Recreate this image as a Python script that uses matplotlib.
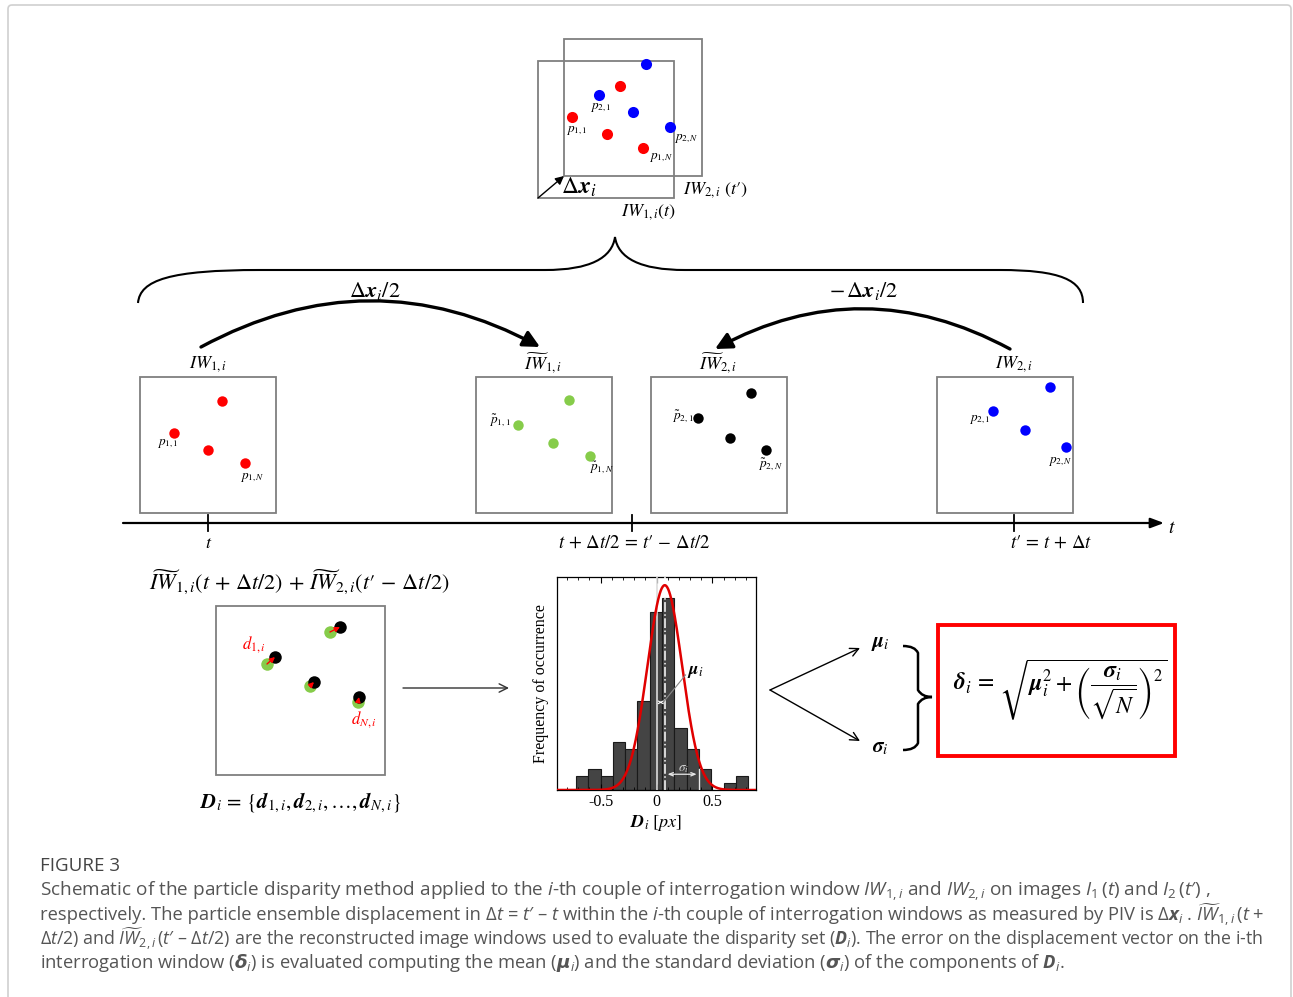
import numpy as np
import matplotlib
matplotlib.use("Agg")
import matplotlib.pyplot as plt
from matplotlib.patches import Rectangle, FancyArrowPatch, PathPatch, FancyBboxPatch
from matplotlib.path import Path

plt.rcParams['mathtext.fontset'] = 'custom'
plt.rcParams['mathtext.rm'] = 'Open Sans'
plt.rcParams['mathtext.it'] = 'Open Sans:italic'
plt.rcParams['mathtext.bf'] = 'Open Sans:bold:italic'

W, H = 1293, 997

# --- histogram of the disparity set D_i (counts per bin) ---
bin_edges = [-0.72, -0.61, -0.50, -0.39, -0.28, -0.17, -0.06, 0.05,
             0.16, 0.27, 0.38, 0.49, 0.60, 0.71, 0.82]
bin_counts = [2, 3, 2, 7, 6, 13, 26, 28, 9, 6, 3, 0, 1, 2]
fit_mu, fit_sigma, fit_peak = 0.074, 0.155, 29.9
sigma_arrow = 0.31

# --- particle positions (pixels in the figure) ---
top_red = [(620, 86), (572, 117), (607, 134), (643, 148)]
top_blue = [(646, 64), (599, 95), (633, 112), (670, 127)]
iw1_pts = [(222, 401), (174, 433), (208, 450), (245, 463)]
iw1t_pts = [(569, 400), (518, 425), (553, 443), (590, 456)]
iw2t_pts = [(751, 393), (698, 418), (730, 438), (766, 450)]
iw2_pts = [(1050, 387), (993, 411), (1025, 430), (1066, 447)]
green_pts = [(267, 664), (330, 632), (310, 686), (358, 702)]
black_pts = [(275, 657), (340, 627), (314, 682), (359, 697)]

RED, BLUE, GREEN = '#ff0000', '#0000ff', '#86cc4a'
BOXC = '#7f7f7f'
MF = 'stix'

fig = plt.figure(figsize=(W / 100, H / 100), dpi=100)
ax = fig.add_axes([0, 0, 1, 1])
ax.set_xlim(0, W)
ax.set_ylim(H, 0)
ax.axis('off')

# card border
ax.add_patch(FancyBboxPatch((8, 5), 1283, 1010, boxstyle="round,pad=0,rounding_size=4",
                            fc='none', ec='#d0d0d0', lw=1.2))


def box(x0, y0, x1, y1, ec=BOXC, lw=1.3):
    ax.add_patch(Rectangle((x0, y0), x1 - x0, y1 - y0, fc='none', ec=ec, lw=lw))


def mtext(x, y, s, size=12, **kw):
    kw.setdefault('ha', 'center')
    kw.setdefault('va', 'center')
    return ax.text(x, y, s, fontsize=size, math_fontfamily=MF, **kw)


def dots(pts, color, size=8):
    xs, ys = zip(*pts)
    ax.plot(xs, ys, 'o', ms=size, color=color, mec='none', zorder=5)


# ---- top: overlapping interrogation windows ----
box(538, 61, 674, 198)
box(564, 39, 702, 176)
dots(top_red, RED)
dots(top_blue, BLUE)
ax.add_patch(FancyArrowPatch((538, 198), (564, 176), arrowstyle='-|>,head_length=5,head_width=2.5',
                             lw=1.0, color='k', shrinkA=0, shrinkB=0))
mtext(561, 187, r'$\Delta\boldsymbol{x}_i$', size=17, ha='left')
mtext(683, 190, r"$IW_{2,i}\ (t\prime)$", size=13, ha='left')
mtext(648, 212, r"$IW_{1,i}(t)$", size=13)
mtext(601, 107, r'$p_{2,1}$', size=9.5)
mtext(577, 130, r'$p_{1,1}$', size=9.5)
mtext(686, 138, r'$p_{2,N}$', size=9.5)
mtext(661, 157, r'$p_{1,N}$', size=9.5)

# ---- big brace ----
bv = [(138, 303), (140, 280), (170, 270), (260, 270), (545, 270),
      (590, 270), (612, 258), (615, 237),
      (618, 258), (640, 270), (685, 270), (1000, 270),
      (1060, 270), (1083, 280), (1083, 303)]
bc = [Path.MOVETO, Path.CURVE4, Path.CURVE4, Path.CURVE4, Path.LINETO,
      Path.CURVE4, Path.CURVE4, Path.CURVE4,
      Path.CURVE4, Path.CURVE4, Path.CURVE4, Path.LINETO,
      Path.CURVE4, Path.CURVE4, Path.CURVE4]
ax.add_patch(PathPatch(Path(bv, bc), fc='none', ec='k', lw=1.5))

# ---- curved displacement arrows ----
ax.add_patch(FancyArrowPatch((201, 347), (540, 347), connectionstyle='arc3,rad=-0.27',
                             arrowstyle='-|>,head_length=10,head_width=5', lw=2.4,
                             color='k', shrinkA=0, shrinkB=0))
ax.add_patch(FancyArrowPatch((1010, 349), (715, 349), connectionstyle='arc3,rad=0.27',
                             arrowstyle='-|>,head_length=10,head_width=5', lw=2.4,
                             color='k', shrinkA=0, shrinkB=0))
mtext(375, 291, r'$\Delta\boldsymbol{x}_i/2$', size=16)
mtext(864, 291, r'$-\,\Delta\boldsymbol{x}_i/2$', size=16)

# ---- middle row windows ----
for (x0, x1), lab, cx in [((140, 276), r'$IW_{1,i}$', 208),
                          ((476, 612), r'$\widetilde{IW}_{1,i}$', 543),
                          ((651, 787), r'$\widetilde{IW}_{2,i}$', 718),
                          ((937, 1073), r'$IW_{2,i}$', 1014)]:
    box(x0, 377, x1, 513)
    mtext(cx, 364, lab, size=13)
dots(iw1_pts, RED, 7.5)
dots(iw1t_pts, GREEN, 7.5)
dots(iw2t_pts, 'k', 7.5)
dots(iw2_pts, BLUE, 7.5)
mtext(168, 443, r'$p_{1,1}$', size=9.5)
mtext(252, 477, r'$p_{1,N}$', size=9.5)
mtext(500, 421, r'$\tilde{p}_{1,1}$', size=9.5)
mtext(601, 468, r'$\tilde{p}_{1,N}$', size=9.5)
mtext(683, 417, r'$\tilde{p}_{2,1}$', size=9.5)
mtext(770, 465, r'$\tilde{p}_{2,N}$', size=9.5)
mtext(980, 419, r'$p_{2,1}$', size=9.5)
mtext(1060, 461, r'$p_{2,N}$', size=9.5)

# ---- time axis ----
ax.add_patch(FancyArrowPatch((123, 523), (1164, 523), arrowstyle='-|>,head_length=8,head_width=3',
                             lw=1.6, color='k', shrinkA=0, shrinkB=0))
for tx in (208, 632, 1014):
    ax.plot([tx, tx], [515, 531], color='k', lw=1.3)
mtext(1168, 527, r'$t$', size=14, ha='left')
mtext(209, 543, r'$t$', size=13)
mtext(634, 542, r"$t\,+\,\Delta t/2\,=\,t\prime\,-\,\Delta t/2$", size=13.5)
mtext(1051, 542, r"$t\prime\,=\,t\,+\,\Delta t$", size=13.5)

# ---- bottom left: superposed windows ----
mtext(299, 582, r"$\widetilde{IW}_{1,i}(t\,+\,\Delta t/2)\,+\,\widetilde{IW}_{2,i}(t\prime\,-\,\Delta t/2)$",
      size=16)
box(216, 606, 385, 775)
dots(green_pts, GREEN, 9)
dots(black_pts, 'k', 9)
for g, b in zip(green_pts, black_pts):
    ax.add_patch(FancyArrowPatch(g, b, arrowstyle='-|>,head_length=3,head_width=1.5', lw=1.0,
                                 color=RED, shrinkA=0, shrinkB=0, zorder=6))
mtext(254, 645, r'$d_{1,i}$', size=12, color=RED)
mtext(364, 720, r'$d_{N,i}$', size=12, color=RED)
mtext(300, 803, r'$\mathbfit{D}_i\,=\,\{\mathbfit{d}_{1,i},\mathbfit{d}_{2,i},\ldots,\mathbfit{d}_{N,i}\}$',
      size=15)
ax.add_patch(FancyArrowPatch((403, 688), (509, 688), arrowstyle='->,head_length=6,head_width=3',
                             lw=1.0, color='#333333', shrinkA=0, shrinkB=0))

# ---- right: mu, sigma and the error formula ----
for ty in (648, 741):
    ax.add_patch(FancyArrowPatch((770, 690), (860, ty), arrowstyle='->,head_length=6,head_width=3',
                                 lw=1.0, color='k', shrinkA=0, shrinkB=0))
mtext(880, 643, r'$\boldsymbol{\mu}_i$', size=15)
mtext(880, 747, r'$\boldsymbol{\sigma}_i$', size=15)
rv = [(903, 646), (915, 646), (918, 653), (918, 670), (918, 690), (922, 697), (932, 697),
      (922, 697), (918, 704), (918, 724), (918, 743), (915, 750), (903, 750)]
rc = [Path.MOVETO, Path.CURVE3, Path.CURVE3, Path.LINETO, Path.LINETO, Path.CURVE3, Path.CURVE3,
      Path.CURVE3, Path.CURVE3, Path.LINETO, Path.LINETO, Path.CURVE3, Path.CURVE3]
ax.add_patch(PathPatch(Path(rv, rc), fc='none', ec='k', lw=1.8))
box(938, 625, 1175, 756, ec=RED, lw=2.8)
mtext(1060, 690, r'$\boldsymbol{\delta}_i\,=\,\sqrt{\boldsymbol{\mu}_i^2+\left(\dfrac{\boldsymbol{\sigma}_i}{\sqrt{N}}\right)^2}$',
      size=17)

# ---- histogram inset ----
hx = fig.add_axes([557 / W, 1 - 790 / H, (756 - 557) / W, (790 - 577) / H])
widths = np.diff(bin_edges)
hx.bar(bin_edges[:-1], bin_counts, width=widths, align='edge', color='#444444',
       edgecolor='#1a1a1a', lw=0.8)
xs = np.linspace(-0.89, 0.89, 400)
hx.plot(xs, fit_peak * np.exp(-0.5 * ((xs - fit_mu) / fit_sigma) ** 2), color='#e00000', lw=1.8, zorder=5)
hx.axvline(0, color='#dddddd', lw=1.2, zorder=4)
hx.axvline(fit_mu, color='white', lw=1.1, ls='-.', zorder=4)
hx.annotate('', xy=(0, 12.8), xytext=(fit_mu, 12.8),
            arrowprops=dict(arrowstyle='<->,head_length=0.2,head_width=0.1', color='white', lw=0.8))
hx.plot([0.06, 0.26], [12.8, 16.8], color='#888888', lw=0.8, zorder=6)
hx.text(0.27, 17.0, r'$\boldsymbol{\mu}_i$', fontsize=13, math_fontfamily=MF, zorder=6)
hx.annotate('', xy=(fit_mu, 2.3), xytext=(fit_mu + sigma_arrow, 2.3),
            arrowprops=dict(arrowstyle='<->,head_length=0.3,head_width=0.12', color='#e8e8e8', lw=0.9))
hx.plot([fit_mu + sigma_arrow] * 2, [0, 3], color='#e8e8e8', lw=1.0, zorder=4)
hx.text(0.19, 2.7, r'$\sigma_i$', fontsize=9.5, color='#cccccc', math_fontfamily=MF, zorder=6)
hx.set_xlim(-0.89, 0.89)
hx.set_ylim(0, 31.1)
hx.set_xticks([-0.5, 0, 0.5])
hx.set_xticklabels(['-0.5', '0', '0.5'], fontfamily='Liberation Serif', fontsize=11.5)
hx.set_xticks(np.arange(-0.8, 0.81, 0.1), minor=True)
hx.tick_params(axis='x', which='both', direction='in', top=True, pad=3)
hx.tick_params(axis='x', which='major', length=4)
hx.tick_params(axis='x', which='minor', length=2)
hx.set_yticks([])
hx.set_ylabel('Frequency of occurrence', fontfamily='Liberation Serif', fontsize=11.5, labelpad=6)
hx.set_xlabel(r'$\mathbfit{D}_i\ [px]$', fontsize=13, math_fontfamily=MF, labelpad=2)
for sp in hx.spines.values():
    sp.set_linewidth(0.9)

# ---- caption ----
CAP = '#555555'
ax.text(40, 866, 'FIGURE 3', fontsize=13.5, color='#444444', fontfamily='Open Sans', va='center')
cap_lines = [
    [r"Schematic of the particle disparity method applied to the $i$-th couple of interrogation window $IW_{1,i}$ and $IW_{2,i}$ on images $I_1\,(t)$ and $I_2\,(t\prime)$ ,"],
    [r"respectively. The particle ensemble displacement in",
     r" $\Delta t$ = $t\prime$ – $t$ within the $i$-th couple of interrogation windows as measured by PIV is $\Delta\mathbf{x}_i$ . $\widetilde{IW}_{1,i}\,(t$ +"],
    [r"$\Delta t$/2) and $\widetilde{IW}_{2,i}\,(t\prime$ – $\Delta t$/2)",
     r" are the reconstructed image windows used to evaluate the disparity set ($\mathbf{D}_i$). The error on the displacement vector on the i-th"],
    [r"interrogation window ($\boldsymbol{\delta}_i$) is evaluated computing the mean ($\boldsymbol{\mu}_i$) and the standard deviation ($\boldsymbol{\sigma}_i$) of the components of $\mathbf{D}_i$."],
]
cap_right = [1207, 1262, 1262, 1062]
renderer = fig.canvas.get_renderer()
for k, segs in enumerate(cap_lines):
    y = 891 + 24 * k
    parts = [ax.text(40, y, s, fontsize=13, color=CAP, fontfamily='Open Sans', va='center') for s in segs]
    total = sum(p.get_window_extent(renderer).width for p in parts)
    # fit each line to the width it takes in the reference layout
    size = min(13.8, 13 * (cap_right[k] - 40) / total)
    x = 40
    for p in parts:
        p.set_fontsize(size)
        p.set_x(x)
        x += p.get_window_extent(renderer).width

fig.savefig('out.png', dpi=100)
